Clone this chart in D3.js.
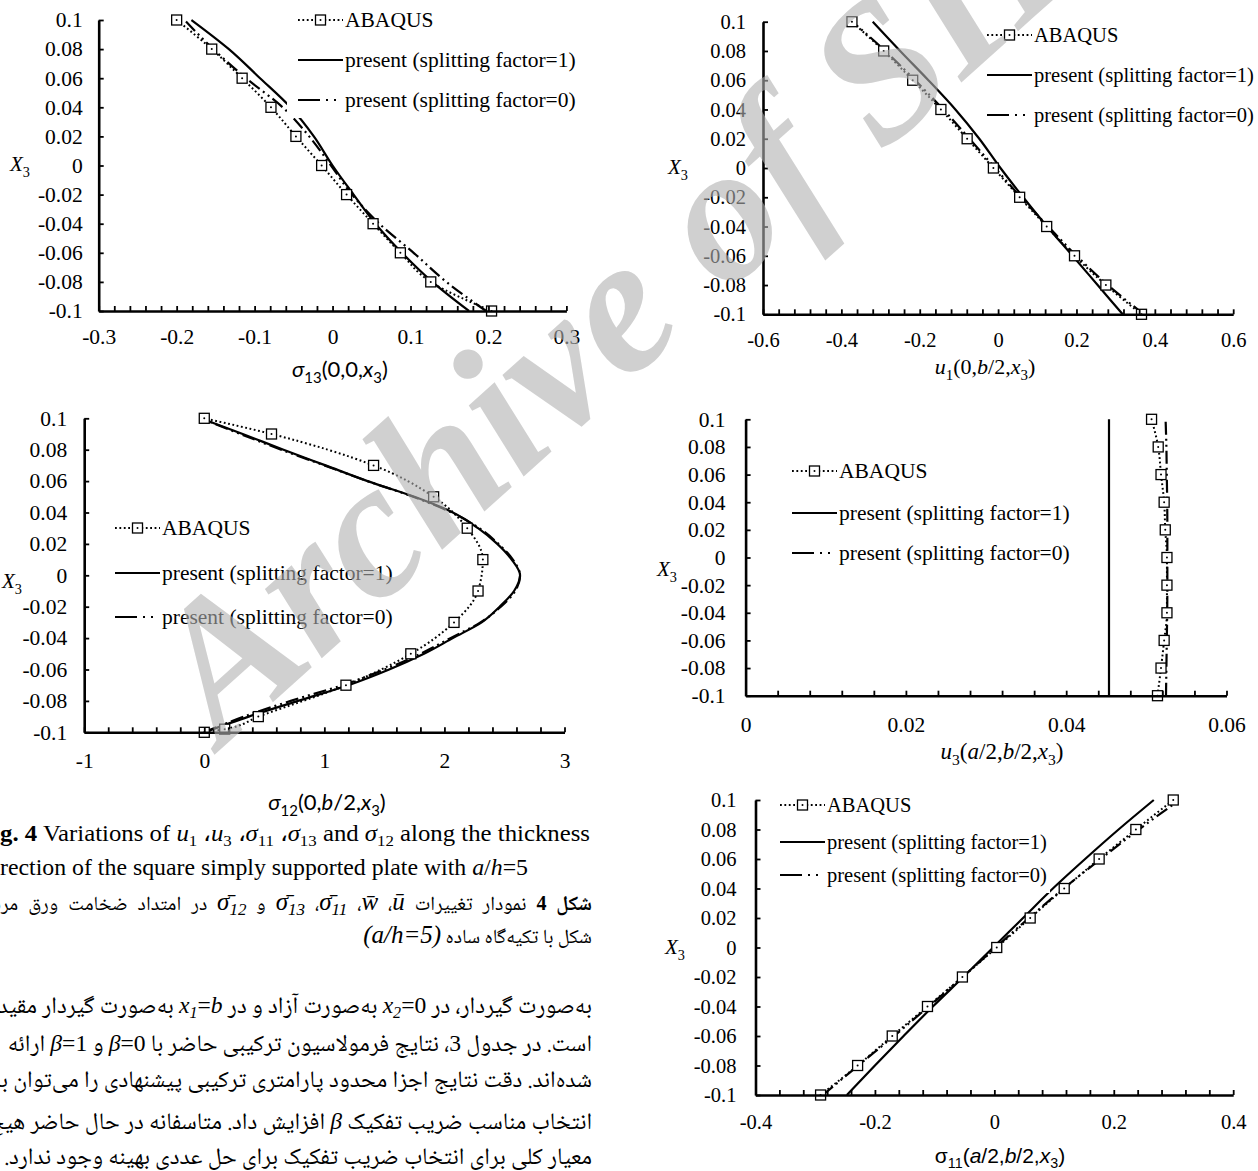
<!DOCTYPE html>
<html><head><meta charset="utf-8">
<script src="https://cdn.jsdelivr.net/npm/d3@7/dist/d3.min.js"></script>
<style>
html,body{margin:0;padding:0;background:#fff}
body{width:1258px;height:1171px;overflow:hidden;position:relative}
#chart,#wm{position:absolute;left:0;top:0}
#wm{pointer-events:none}
.cap{position:absolute;white-space:nowrap;color:#000;line-height:24px}
.en{left:0;font-family:'Liberation Serif',serif;font-size:23px;transform-origin:0 50%}
.fa{right:666px;direction:rtl;font-family:'Noto Naskh Arabic','Noto Sans Arabic','DejaVu Sans',sans-serif}
.m{font-family:'Liberation Serif',serif;font-style:italic}
.cm{font-size:125%}
.lt{font-family:'Liberation Serif',serif}
sub{font-size:68%;line-height:0;vertical-align:-0.3em}
</style></head>
<body>
<svg id="chart" width="1258" height="1171"></svg>
<svg id="wm" width="1258" height="1171"></svg>
<script>
// ---------------- data ----------------
const Y_TICKS = [0.1,0.08,0.06,0.04,0.02,0,-0.02,-0.04,-0.06,-0.08,-0.1];
const Y_TICK_LABELS = ["0.1","0.08","0.06","0.04","0.02","0","-0.02","-0.04","-0.06","-0.08","-0.1"];
const X3_11 = [0.1,0.08,0.06,0.04,0.02,0,-0.02,-0.04,-0.06,-0.08,-0.1];
const X3_21 = [0.1,0.09,0.08,0.07,0.06,0.05,0.04,0.03,0.02,0.01,0,-0.01,-0.02,-0.03,-0.04,-0.05,-0.06,-0.07,-0.08,-0.09,-0.1];
const LEGEND_LABELS = ["ABAQUS","present (splitting factor=1)","present (splitting factor=0)"];

// sigma13(0,0,x3)
const S13_TICKS = [-0.3,-0.2,-0.1,0,0.1,0.2,0.3];
const S13_TICK_LABELS = ["-0.3","-0.2","-0.1","0","0.1","0.2","0.3"];
const S13_ABAQUS = [-0.200,-0.155,-0.116,-0.079,-0.047,-0.014,0.018,0.052,0.087,0.126,0.204];
const S13_SF1 = [-0.181,-0.133,-0.093,-0.054,-0.024,0.000,0.027,0.055,0.089,0.128,0.175];
const S13_SF0 = [-0.190,-0.153,-0.111,-0.064,-0.030,-0.002,0.025,0.060,0.104,0.146,0.197];

// u1(0,b/2,x3)
const U1_TICKS = [-0.6,-0.4,-0.2,0,0.2,0.4,0.6];
const U1_TICK_LABELS = ["-0.6","-0.4","-0.2","0","0.2","0.4","0.6"];
const U1_ABAQUS = [-0.373,-0.292,-0.218,-0.146,-0.079,-0.012,0.055,0.124,0.195,0.275,0.366];
const U1_SF1 = [-0.320,-0.250,-0.178,-0.109,-0.048,0.006,0.064,0.125,0.190,0.254,0.318];
const U1_SF0 = [-0.372,-0.288,-0.212,-0.140,-0.073,-0.008,0.058,0.128,0.200,0.280,0.372];

// sigma12(0,b/2,x3)
const S12_TICKS = [-1,0,1,2,3];
const S12_TICK_LABELS = ["-1","0","1","2","3"];
const S12_ABAQUS_X3 = [0.1,0.09,0.07,0.05,0.03,0.01,-0.01,-0.03,-0.05,-0.07,-0.09,-0.098,-0.1];
const S12_ABAQUS = [0,0.56,1.41,1.91,2.19,2.32,2.28,2.08,1.72,1.18,0.45,0.17,0];
const S12_SF1 = [-0.03,0.32,0.66,1.01,1.36,1.75,2.07,2.28,2.44,2.56,2.63,2.58,2.46,2.31,2.07,1.83,1.54,1.20,0.78,0.37,0.0];
const S12_SF0 = [-0.03,0.30,0.64,1.00,1.36,1.74,2.06,2.29,2.45,2.57,2.63,2.59,2.47,2.30,2.05,1.80,1.50,1.15,0.72,0.33,0.0];

// u3(a/2,b/2,x3)
const U3_TICKS = [0,0.02,0.04,0.06];
const U3_TICK_LABELS = ["0","0.02","0.04","0.06"];
const U3_ABAQUS = [0.05065,0.05148,0.05183,0.05222,0.05236,0.05257,0.05257,0.05257,0.05222,0.05183,0.05139];
const U3_SF1_X3 = [0.1,-0.1];
const U3_SF1 = [0.04534,0.04534];
const U3_SF0 = [0.05240,0.05250,0.05255,0.05260,0.05262,0.05262,0.05262,0.05260,0.05255,0.05250,0.05245];

// sigma11(a/2,b/2,x3)
const S11_TICKS = [-0.4,-0.2,0,0.2,0.4];
const S11_TICK_LABELS = ["-0.4","-0.2","0","0.2","0.4"];
const S11_ABAQUS = [0.2996,0.237,0.1755,0.117,0.060,0.004,-0.0535,-0.112,-0.171,-0.229,-0.291];
const S11_SF1 = [0.267,0.208,0.152,0.098,0.048,-0.002,-0.052,-0.103,-0.152,-0.200,-0.247];
const S11_SF0 = [0.310,0.242,0.178,0.116,0.058,0.002,-0.053,-0.110,-0.168,-0.228,-0.287];

// ---------------- layout ----------------
const panels = [
 {xDomain:[-0.3,0.3], ticks:S13_TICKS, labels:S13_TICK_LABELS, minor:0.02,
  left:98.7, right:566.4, top:20, bottom:311, xLabOff:26, yGap:16, fs:21.5,
  abaqus:[X3_11,S13_ABAQUS], sf1:[X3_11,S13_SF1], sf0:[X3_11,S13_SF0],
  leg:{x:298, rows:[20,60,100], box:[287,0,300,118]},
  ylab:[20,165], title:{x:340,y:377,font:"Lato",size:22,parts:[{t:"σ",i:1},{t:"13",sub:1},{t:"(0,0,"},{t:"x",i:1},{t:"3",sub:1},{t:")"}]}},
 {xDomain:[-0.6,0.6], ticks:U1_TICKS, labels:U1_TICK_LABELS, minor:0.04,
  left:763, right:1233.2, top:21.7, bottom:314.3, xLabOff:26, yGap:17, fs:20.5,
  abaqus:[X3_11,U1_ABAQUS], sf1:[X3_11,U1_SF1], sf0:[X3_11,U1_SF0],
  leg:{x:987, rows:[35,75,115], box:[980,15,275,118]},
  ylab:[678,168], title:{x:985,y:374,font:"Liberation Serif",size:22,parts:[{t:"u",i:1},{t:"1",sub:1},{t:"(0,"},{t:"b",i:1},{t:"/2,"},{t:"x",i:1},{t:"3",sub:1},{t:")"}]}},
 {xDomain:[-1,3], ticks:S12_TICKS, labels:S12_TICK_LABELS, minor:0.2,
  left:84.2, right:564.5, top:418.3, bottom:732.3, xLabOff:28, yGap:17, fs:21.5,
  abaqus:[S12_ABAQUS_X3,S12_ABAQUS], sf1:[X3_21,S12_SF1], sf0:[X3_21,S12_SF0],
  leg:{x:115, rows:[528,573,617], box:[108,508,292,129]},
  ylab:[12,582], title:{x:327,y:810,font:"Lato",size:22,parts:[{t:"σ",i:1},{t:"12",sub:1},{t:"(0,"},{t:"b",i:1},{t:"/2,"},{t:"x",i:1},{t:"3",sub:1},{t:")"}]}},
 {xDomain:[0,0.06], ticks:U3_TICKS, labels:U3_TICK_LABELS, minor:0.004,
  left:745.6, right:1226.5, top:419.3, bottom:695.7, xLabOff:29, yGap:20, fs:21.5,
  abaqus:[X3_11,U3_ABAQUS], sf1:[U3_SF1_X3,U3_SF1], sf0:[X3_11,U3_SF0],
  leg:{x:792, rows:[471,513,553], box:[785,452,300,120]},
  ylab:[667,570], title:{x:1002,y:759,font:"Liberation Serif",size:23,parts:[{t:"u",i:1},{t:"3",sub:1},{t:"("},{t:"a",i:1},{t:"/2,"},{t:"b",i:1},{t:"/2,"},{t:"x",i:1},{t:"3",sub:1},{t:")"}]}},
 {xDomain:[-0.4,0.4], ticks:S11_TICKS, labels:S11_TICK_LABELS, minor:0.04,
  left:755.5, right:1233.2, top:800, bottom:1095, xLabOff:27, yGap:19, fs:20.5,
  abaqus:[X3_11,S11_ABAQUS], sf1:[X3_11,S11_SF1], sf0:[X3_11,S11_SF0],
  leg:{x:780, rows:[805,842,875], box:[772,786,278,107]},
  ylab:[675,948], title:{x:1000,y:1163,font:"Liberation Sans",size:21,parts:[{t:"σ"},{t:"11",sub:1},{t:"("},{t:"a",i:1},{t:"/2,"},{t:"b",i:1},{t:"/2,"},{t:"x",i:1},{t:"3",sub:1},{t:")"}]}}
];

const svg = d3.select('#chart');
const SERIF = "'Liberation Serif', serif";
const DASHDOT = "13,4,2,4,2,4";
const DOTTED = "1.8,2.6";

function rich(sel, parts, size){
  let shifted = false;
  parts.forEach(p=>{
    const t = sel.append('tspan').text(p.t);
    if(p.i) t.attr('font-style','italic');
    if(p.sub){ t.attr('font-size', size*0.68); if(!shifted){ t.attr('dy', size*0.26); shifted=true; } }
    else if(shifted){ t.attr('dy', -size*0.26); shifted=false; }
  });
}

function marker(g, cx, cy){
  g.append('rect').attr('x',cx-5).attr('y',cy-5).attr('width',10).attr('height',10)
    .attr('fill','#fff').attr('stroke','#000').attr('stroke-width',1.3);
  g.append('circle').attr('cx',cx).attr('cy',cy).attr('r',1).attr('fill','#000');
}

panels.forEach(p=>{
  const g = svg.append('g');
  const x = d3.scaleLinear().domain(p.xDomain).range([p.left,p.right]);
  const y = d3.scaleLinear().domain([-0.1,0.1]).range([p.bottom,p.top]);
  const toPts = s => s[0].map((v,i)=>[s[1][i], v]).sort((a,b)=>a[1]-b[1]);
  const line = d3.line().x(d=>x(d[0])).y(d=>y(d[1])).curve(d3.curveMonotoneY);

  g.append('path').attr('d', line(toPts(p.sf1))).attr('fill','none').attr('stroke','#000').attr('stroke-width',2.2);
  g.append('path').attr('d', line(toPts(p.sf0))).attr('fill','none').attr('stroke','#000').attr('stroke-width',2.2).attr('stroke-dasharray',DASHDOT);
  const ab = toPts(p.abaqus);
  g.append('path').attr('d', line(ab)).attr('fill','none').attr('stroke','#000').attr('stroke-width',2).attr('stroke-dasharray',DOTTED);
  ab.forEach(d=>marker(g, x(d[0]), y(d[1])));

  const n = Math.round((p.xDomain[1]-p.xDomain[0])/p.minor);
  const minorTicks = d3.range(n+1).map(i=>p.xDomain[0]+i*p.minor);
  const ax = g.append('g').attr('transform',`translate(0,${p.bottom})`)
    .call(d3.axisBottom(x).tickValues(minorTicks).tickSize(-5).tickSizeOuter(0).tickFormat(''));
  ax.select('.domain').attr('stroke-width',2.6).attr('stroke','#000');
  ax.selectAll('.tick line').attr('stroke-width',1.8).attr('stroke','#000');

  const axl = g.append('g').attr('transform',`translate(0,${p.bottom})`)
    .call(d3.axisBottom(x).tickValues(p.ticks).tickSize(0).tickFormat((d,i)=>p.labels[i]));
  axl.select('.domain').remove();
  axl.attr('font-family',SERIF).attr('font-size',p.fs);
  axl.selectAll('text').attr('y',p.xLabOff).attr('dy','0.34em').attr('fill','#000');

  const ay = g.append('g').attr('transform',`translate(${p.left},0)`)
    .call(d3.axisLeft(y).tickValues(Y_TICKS).tickSize(-5).tickSizeOuter(0).tickPadding(p.yGap).tickFormat((d,i)=>Y_TICK_LABELS[i]));
  ay.select('.domain').attr('stroke-width',2.6).attr('stroke','#000');
  ay.selectAll('.tick line').attr('stroke-width',1.8).attr('stroke','#000');
  ay.attr('font-family',SERIF).attr('font-size',p.fs);
  ay.selectAll('text').attr('fill','#000');

  const yl = g.append('text').attr('x',p.ylab[0]).attr('y',p.ylab[1]).attr('dy','0.3em')
    .attr('text-anchor','middle').attr('font-family',SERIF).attr('font-size',21);
  rich(yl,[{t:"X",i:1},{t:"3",sub:1}],21);

  const tt = g.append('text').attr('x',p.title.x).attr('y',p.title.y).attr('text-anchor','middle')
    .attr('font-family',p.title.font).attr('font-size',p.title.size);
  rich(tt,p.title.parts,p.title.size);

  const L = p.leg;
  const lg = g.append('g');
  lg.append('rect').attr('x',L.box[0]).attr('y',L.box[1]).attr('width',L.box[2]).attr('height',L.box[3]).attr('fill','#fff');
  const len = 45;
  lg.append('line').attr('x1',L.x).attr('x2',L.x+len).attr('y1',L.rows[0]).attr('y2',L.rows[0])
    .attr('stroke','#000').attr('stroke-width',2).attr('stroke-dasharray',DOTTED);
  marker(lg, L.x+len/2, L.rows[0]);
  lg.append('line').attr('x1',L.x).attr('x2',L.x+len).attr('y1',L.rows[1]).attr('y2',L.rows[1])
    .attr('stroke','#000').attr('stroke-width',2.2);
  lg.append('line').attr('x1',L.x).attr('x2',L.x+len).attr('y1',L.rows[2]).attr('y2',L.rows[2])
    .attr('stroke','#000').attr('stroke-width',2.2).attr('stroke-dasharray',"22,6,2,6,2,7");
  LEGEND_LABELS.forEach((s,i)=>{
    lg.append('text').attr('x',L.x+len+2).attr('y',L.rows[i]).attr('dy','0.34em')
      .attr('font-family',SERIF).attr('font-size',p.fs).text(s);
  });
});

// ---------------- captions ----------------
const body = d3.select('body');
const EN1 = '<b>g. 4</b> Variations of <i>u</i><sub>1</sub> ،<i>u</i><sub>3</sub> ،<i>σ</i><sub>11</sub> ،<i>σ</i><sub>13</sub> and <i>σ</i><sub>12</sub> along the thickness';
const EN2 = 'rection of the square simply supported plate with <i>a</i>/<i>h</i>=5';
const M = s => '<bdi dir="ltr" class="m">'+s+'</bdi>';
const CM = s => '<bdi dir="ltr" class="m cm">'+s+'</bdi>';
const FA_CAP1 = '<b>شکل <span class="lt">4</span></b> نمودار تغییرات '+CM('ū')+'، '+CM('w̄')+'، '+CM('σ̄<sub>11</sub>')+'، '+CM('σ̄<sub>13</sub>')+' و '+CM('σ̄<sub>12</sub>')+' در امتداد ضخامت ورق مربع';
const FA_CAP2 = 'شکل با تکیه‌گاه ساده '+CM('(a/h=5)');
const FA_PARA = [
 'به‌صورت گیردار، در '+M('x<sub>2</sub><span style="font-style:normal">=0</span>')+' به‌صورت آزاد و در '+M('x<sub>1</sub><span style="font-style:normal">=</span>b')+' به‌صورت گیردار مقید شده',
 'است. در جدول <span class="lt">3</span>، نتایج فرمولاسیون ترکیبی حاضر با '+M('β<span style="font-style:normal">=0</span>')+' و '+M('β<span style="font-style:normal">=1</span>')+' ارائه',
 'شده‌اند. دقت نتایج اجزا محدود پارامتری ترکیبی پیشنهادی را می‌توان با',
 'انتخاب مناسب ضریب تفکیک '+M('β')+' افزایش داد. متاسفانه در حال حاضر هیچ',
 'معیار کلی برای انتخاب ضریب تفکیک برای حل عددی بهینه وجود ندارد.'
];

function enLine(html, top, target){
  const d = body.append('div').attr('class','cap en').style('top',top+'px').html(html);
  const w = d.node().getBoundingClientRect().width;
  d.style('transform',`scaleX(${target/w})`);
}
enLine(EN1, 822, 590);
enLine(EN2, 856, 528);

function faLine(html, top, size){
  return body.append('div').attr('class','cap fa').style('top',top+'px').style('font-size',size+'px').html(html);
}
function justify(div, target){
  const w = div.node().getBoundingClientRect().width;
  const spaces = (div.node().textContent.match(/ /g)||[]).length;
  if(spaces>0 && target>w) div.style('word-spacing', ((target-w)/spaces)+'px');
}
const probe = faLine(FA_PARA[4], 1147, 20);
const pw = probe.node().getBoundingClientRect().width;
const paraSize = Math.max(13, Math.min(26, 20*588/pw));
probe.remove();
const probe2 = faLine(FA_CAP2, 922, 18);
const cw = probe2.node().getBoundingClientRect().width;
const capSize = Math.max(12, Math.min(24, 18*229/cw));
probe2.remove();
justify(faLine(FA_CAP1, 890, capSize), 606);
faLine(FA_CAP2, 923, capSize);
[993,1031,1070,1109,1147].forEach((t,i)=>faLine(FA_PARA[i], t, paraSize));

// ---------------- watermark ----------------
d3.select('#wm').append('text')
  .attr('transform','translate(222,748) rotate(-42)')
  .attr('font-family',SERIF).attr('font-weight','bold').attr('font-style','italic')
  .attr('font-size',195).attr('fill','#b0b0b0').attr('fill-opacity',0.6)
  .text('Archive of SID');
document.getElementById('wm').style.zIndex = 5;
</script>
</body></html>
